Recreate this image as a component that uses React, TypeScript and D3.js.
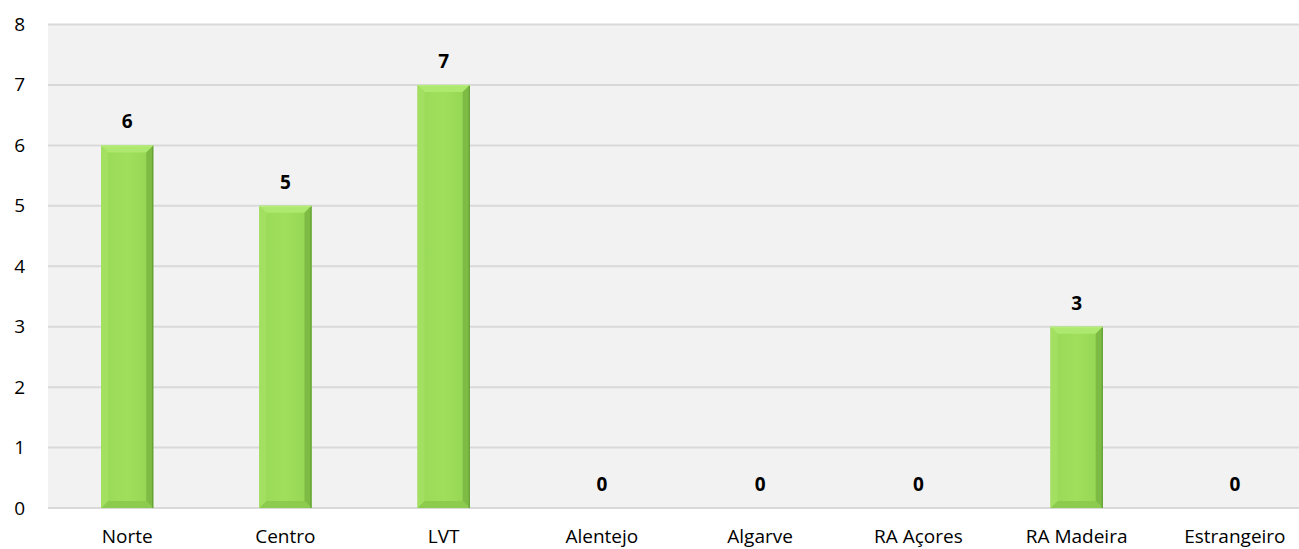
import React from "react";
import * as d3 from "d3";

const categories = ["Norte", "Centro", "LVT", "Alentejo", "Algarve", "RA Açores", "RA Madeira", "Estrangeiro"];
const values = [6, 5, 7, 0, 0, 0, 3, 0];
const yTicks = [0, 1, 2, 3, 4, 5, 6, 7, 8];

const W = 1299;
const H = 549;
const left = 48;
const right = 1314;
const top = 24.5;
const bottom = 508;
const FONT = "'Open Sans', 'Noto Sans', sans-serif";

export default function App() {
  const x = d3.scaleBand<string>().domain(categories).range([left, right]).paddingInner(0.67).paddingOuter(0.335);
  const y = d3.scaleLinear().domain([0, 8]).range([bottom, top]);
  const bw = x.bandwidth();
  const bv = 7;

  return (
    <svg width={W} height={H} style={{ position: "absolute", left: 0, top: 0, display: "block" }}>
      <defs>
        <linearGradient id="face" x1="0" y1="0" x2="1" y2="0">
          <stop offset="0" stopColor="#98d957" />
          <stop offset="0.5" stopColor="#9fdf5c" />
          <stop offset="1" stopColor="#93d452" />
        </linearGradient>
      </defs>
      <rect x={0} y={0} width={W} height={H} fill="#ffffff" />
      <rect x={left} y={top} width={right - left} height={bottom - top} fill="#f2f2f2" />
      {yTicks.map((t) => (
        <line key={t} x1={left} x2={right} y1={y(t)} y2={y(t)} stroke="#d9d9d9" strokeWidth={2} />
      ))}
      {yTicks.map((t) => (
        <text key={"yl" + t} x={25} y={y(t) + 6.5} textAnchor="end" fontFamily={FONT} fontSize={19} fill="#000">
          {t}
        </text>
      ))}
      {categories.map((c, i) => {
        const v = values[i];
        const x0 = x(c)!;
        const x1 = x0 + bw;
        const y0 = y(v);
        const y1 = y(0);
        const cx = x0 + bw / 2;
        const hasBar = v > 0;
        return (
          <g key={c}>
            {hasBar && (
              <g>
                <rect x={x0} y={y0} width={bw} height={y1 - y0} fill="url(#face)" />
                <polygon points={`${x0},${y0} ${x1},${y0} ${x1 - bv},${y0 + bv} ${x0 + bv},${y0 + bv}`} fill="#ade86f" />
                <polygon points={`${x1},${y0} ${x1},${y1} ${x1 - bv},${y1 - bv} ${x1 - bv},${y0 + bv}`} fill="#7dbb45" />
                <polygon points={`${x0},${y1} ${x1},${y1} ${x1 - bv},${y1 - bv} ${x0 + bv},${y1 - bv}`} fill="#8ccb4e" />
                <polygon points={`${x0},${y0} ${x0 + bv},${y0 + bv} ${x0 + bv},${y1 - bv} ${x0},${y1}`} fill="#a3e062" />
                <line x1={x1 - 0.5} x2={x1 - 0.5} y1={y0} y2={y1} stroke="#5e9a33" strokeWidth={1} />
                <line x1={x0} x2={x1} y1={y0 + 0.5} y2={y0 + 0.5} stroke="#b9ee80" strokeWidth={1} />
              </g>
            )}
            <text x={cx} y={y0 - 17} textAnchor="middle" fontFamily={FONT} fontSize={19} fontWeight="bold" fill="#000">
              {v}
            </text>
            <text x={cx} y={543} textAnchor="middle" fontFamily={FONT} fontSize={19} fill="#000">
              {c}
            </text>
          </g>
        );
      })}
    </svg>
  );
}
